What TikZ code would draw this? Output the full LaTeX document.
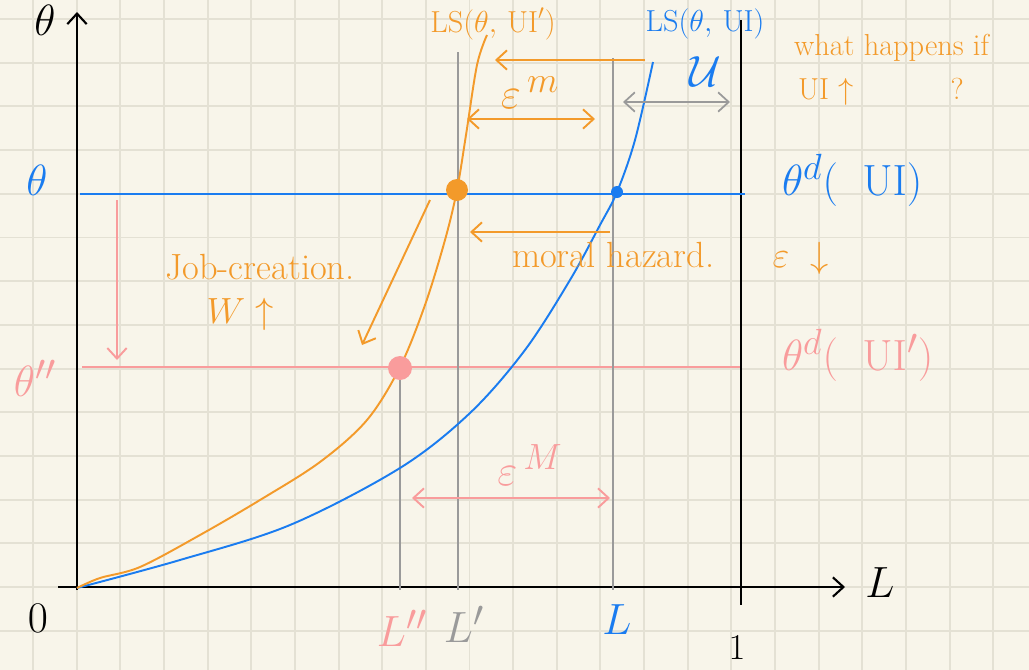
\documentclass[tikz,border=0pt]{standalone}
\usepackage{amsmath,amssymb}
\usepackage{tikz}
\usetikzlibrary{arrows.meta,positioning,calc}
\usepackage{xcolor}
\definecolor{paper}{HTML}{F8F5EA}
\definecolor{gridc}{HTML}{E4E1D4}
\definecolor{lsblue}{HTML}{1A7CF0}
\definecolor{lsorange}{HTML}{F39A2A}
\definecolor{lspink}{HTML}{F99C9C}
\definecolor{lsgray}{HTML}{9A9A9A}

\begin{document}
\begin{tikzpicture}[x=0.02cm,y=-0.02cm,>={Straight Barb[length=6pt,width=11pt]},
    lbl/.style={font=\LARGE,inner sep=1pt},
    big/.style={font=\Huge,inner sep=1pt},
    axis/.style={line width=1.2pt,black},
    curve/.style={line width=1.1pt},
    guide/.style={line width=1pt,lsgray}]
    \useasboundingbox (0,0) rectangle (1029,670);

    % Paper and grid
    \fill[paper] (0,0) rectangle (1029,670);
    \foreach \i in {0,...,22}
      \draw[gridc,line width=1.1pt] ({33+43.65*\i},0) -- ({33+43.65*\i},670);
    \foreach \j in {0,...,15}
      \draw[gridc,line width=1.1pt] (0,{19+43.7*\j}) -- (1029,{19+43.7*\j});

    % Axes
    \coordinate (ybot) at (77,590);
    \coordinate (ytop) at (77,12);
    \coordinate (xbot) at (58,587);
    \coordinate (xtop) at (845,587);
    \draw[axis,->] (ybot) -- (ytop);
    \draw[axis,->] (xbot) -- (xtop);
    \node[big] (thetaax) at (45,20) {$\theta$};
    \node[big] (Lax) at (880,583) {$L$};
    \node[big] (zero) at (38,618) {$0$};

    % Upper bound of L
    \coordinate (onetop) at (741,20);
    \coordinate (onebot) at (741,605);
    \draw[axis] (onetop) -- (onebot);
    \node[font=\huge,inner sep=1pt] (one) at (737,648) {$1$};

    % Thresholds
    \coordinate (thl) at (80,194);
    \coordinate (thr) at (745,194);
    \draw[lsblue,curve] (thl) -- (thr);
    \node[big,lsblue] (thA) at (37,180) {$\theta$};
    \node[big,lsblue,right] (thdA) at (780,180) {$\theta^d(\;\;\mathrm{UI})$};
    \coordinate (tpl) at (82,367);
    \coordinate (tpr) at (740,367);
    \draw[lspink,curve] (tpl) -- (tpr);
    \node[big,lspink] (thB) at (35,378) {$\theta''$};
    \node[big,lspink,right] (thdB) at (780,355) {$\theta^d(\;\;\mathrm{UI}')$};
    \coordinate (dropA) at (117,200);
    \coordinate (dropB) at (117,360);
    \draw[lspink,curve,->] (dropA) -- (dropB);

    % Employment levels
    \coordinate (Lpp) at (400,590);
    \coordinate (Lp) at (458,590);
    \coordinate (Lb) at (613,590);
    \draw[guide] (400,367) -- (Lpp);
    \draw[guide] (458,52) -- (Lp);
    \draw[guide] (613,58) -- (Lb);
    \node[big,lspink] (Lpplbl) at (402,628) {$L''$};
    \node[big,lsgray] (Lplbl) at (464,624) {$L'$};
    \node[big,lsblue] (Lblbl) at (617,620) {$L$};

    % LS curves
    \draw[lsblue,curve] plot[smooth,tension=0.55] coordinates {(77,588) (180,560)
      (290,525) (400,468) (470,413) (525,350) (570,280) (600,225) (617,192)
      (635,140) (653,62)};
    \draw[lsorange,curve] plot[smooth,tension=0.55] coordinates {(77,588) (100,578)
      (140,567) (200,535) (260,500) (320,462) (367,420) (400,367) (425,305)
      (445,240) (457,190) (466,135) (477,65) (487,35)};
    \node[lbl,lsorange] (LSb) at (493,24) {LS$(\theta,\,\mathrm{UI}')$};
    \node[lbl,lsblue] (LSa) at (705,24) {LS$(\theta,\,\mathrm{UI})$};

    % Equilibria
    \fill[lsblue] (617,192) circle (6);
    \fill[lsorange] (457,190) circle (11);
    \fill[lspink] (400,368) circle (12);

    % Shifts and gaps
    \coordinate (topR) at (645,60);
    \coordinate (topL) at (495,60);
    \draw[lsorange,curve,->] (topR) -- (topL);
    \draw[lsorange,curve,<->] (467,119) -- (595,119);
    \node[big,lsorange] (epsm) at (530,93) {$\varepsilon^{\,m}$};
    \draw[guide,<->] (623,102) -- (730,102);
    \node[big,lsblue] (ulbl) at (705,72) {$\mathcal{U}$};
    \coordinate (mhR) at (610,232);
    \coordinate (mhL) at (470,232);
    \draw[lsorange,curve,->] (mhR) -- (mhL);
    \node[font=\huge,inner sep=1pt,lsorange,right] (mh) at (510,258) {moral hazard.\hspace{1.6em}$\varepsilon\ \downarrow$};
    \coordinate (jcA) at (430,200);
    \coordinate (jcB) at (362,345);
    \draw[lsorange,curve,->] (jcA) -- (jcB);
    \node[font=\huge,inner sep=1pt,lsorange] (jc) at (260,267) {Job-creation.};
    \node[font=\huge,inner sep=1pt,lsorange] (wup) at (240,314) {$W\uparrow$};
    \draw[lspink,curve,<->] (412,498) -- (610,498);
    \node[big,lspink] (epsM) at (530,465) {$\varepsilon^{\,M}$};

    % Question
    \node[lbl,lsorange,right] (q1) at (792,48) {what happens if};
    \node[lbl,lsorange,right] (q2) at (796,92) {UI $\uparrow$\hspace{3.2em}?};
  \end{tikzpicture}
\end{document}
